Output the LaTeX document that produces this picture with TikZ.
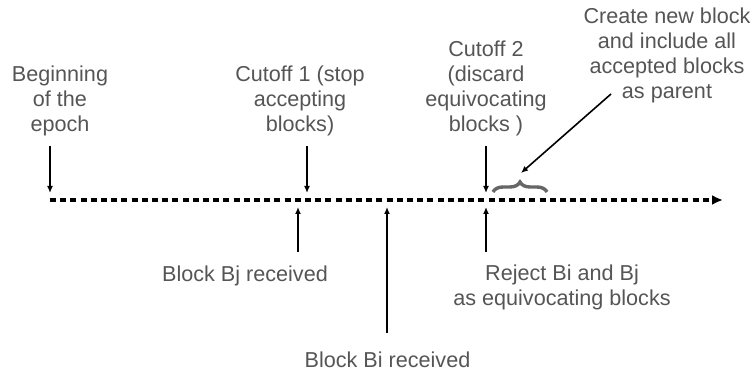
\documentclass[tikz,border=0pt]{standalone}
\usepackage{fontspec}
\setmainfont{Liberation Sans}
\usetikzlibrary{arrows.meta,decorations.pathreplacing}
\definecolor{txt}{HTML}{555555}
\definecolor{brc}{HTML}{666666}
\begin{document}
\begin{tikzpicture}[x=1pt,y=1pt,
  lbl/.style={text=txt, font=\fontsize{21.6}{25}\selectfont, align=center, inner sep=0pt},
  pt/.style={-{Latex[length=7pt,width=6pt]}, line width=1.6pt},
  timeline/.style={line width=3.2pt, dash pattern=on 6pt off 4.2pt, -{Latex[length=11pt,width=10pt]}},
  bracestyle/.style={draw=brc, line width=3.4pt, decorate, decoration={brace, amplitude=10pt}}]
\useasboundingbox (0,0) rectangle (752,374);
% timeline
\coordinate (t0) at (50,174);
\coordinate (tend) at (723,174);
\draw[timeline] (t0) -- (tend);
% labels
\node[lbl] (beg) at (60,273.5) {Beginning\\of the\\epoch};
\node[lbl] (cut1) at (300,273) {Cutoff 1 (stop\\accepting\\blocks)};
\node[lbl] (cut2) at (486,286) {Cutoff 2\\(discard\\equivocating\\blocks )};
\node[lbl] (create) at (667,318.5) {Create new block\\and include all\\accepted blocks\\as parent};
\node[lbl] (bj) at (245,98) {Block Bj received};
\node[lbl] (bi) at (387.5,14) {Block Bi received};
\node[lbl] (rej) at (562,87) {Reject Bi and Bj\\as equivocating blocks};
% down arrows
\coordinate (d0s) at (50,228);  \coordinate (d0e) at (50,181);
\coordinate (d1s) at (307,228); \coordinate (d1e) at (307,181);
\coordinate (d2s) at (486,228); \coordinate (d2e) at (486,181);
\draw[pt] (d0s) -- (d0e);
\draw[pt] (d1s) -- (d1e);
\draw[pt] (d2s) -- (d2e);
% up arrows
\coordinate (ujs) at (298,122); \coordinate (uje) at (298,167);
\coordinate (uis) at (387,41);  \coordinate (uie) at (387,167);
\coordinate (urs) at (486,122); \coordinate (ure) at (486,167);
\draw[pt] (ujs) -- (uje);
\draw[pt] (uis) -- (uie);
\draw[pt] (urs) -- (ure);
% brace
\coordinate (bl) at (493,182);
\coordinate (br) at (547,182);
\draw[bracestyle] (bl) -- (br);
% diagonal arrow
\coordinate (ds) at (611,280);
\coordinate (de) at (521,201);
\draw[pt] (ds) -- (de);
\end{tikzpicture}
\end{document}
